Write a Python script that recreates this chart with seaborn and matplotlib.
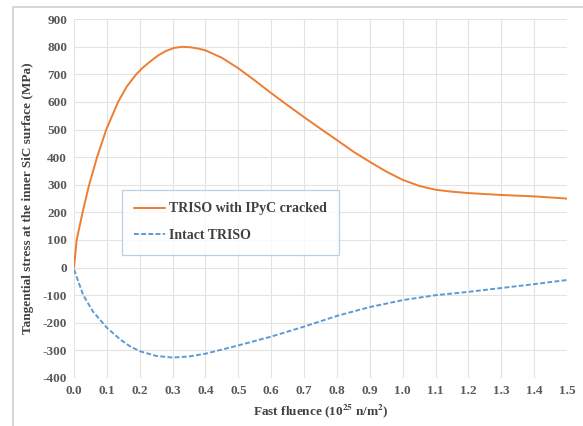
import numpy as np
import pandas as pd
import matplotlib
matplotlib.use("Agg")
import matplotlib.pyplot as plt
import seaborn as sns

# ==================== DATA ====================
fluence_cracked = [0.0, 0.008, 0.026, 0.046, 0.07, 0.098, 0.134, 0.16, 0.189, 0.21, 0.23, 0.255,
                   0.28, 0.305, 0.33, 0.355, 0.38, 0.4, 0.45, 0.5, 0.55, 0.6, 0.65, 0.7,
                   0.75, 0.8, 0.85, 0.9, 0.95, 1.0, 1.05, 1.1, 1.15, 1.2, 1.3, 1.4, 1.5]
stress_cracked = [0, 100, 200, 300, 400, 500, 600, 655, 700, 725, 745, 768,
                  785, 796, 800, 798, 793, 787, 760, 722, 678, 632, 588, 545,
                  503, 462, 420, 383, 348, 318, 296, 282, 275, 270, 263, 258, 250]

fluence_intact = [0.0, 0.01, 0.028, 0.058, 0.1, 0.14, 0.17, 0.2, 0.25, 0.3, 0.35, 0.4, 0.5,
                  0.6, 0.7, 0.8, 0.9, 1.0, 1.1, 1.2, 1.3, 1.4, 1.5]
stress_intact = [-7, -40, -100, -160, -218, -260, -285, -303, -320, -326, -322, -312, -282,
                 -250, -214, -175, -143, -118, -100, -88, -74, -60, -45]

x_ticks = [round(0.1 * i, 1) for i in range(16)]
y_ticks = list(range(-400, 1000, 100))

series_names = ["TRISO with IPyC cracked", "Intact TRISO"]

df = pd.concat([
    pd.DataFrame({"fluence": fluence_cracked, "stress": stress_cracked, "case": series_names[0]}),
    pd.DataFrame({"fluence": fluence_intact, "stress": stress_intact, "case": series_names[1]}),
])

# ==================== STYLE ====================
sns.set_style("white")
plt.rcParams['font.family'] = ['Liberation Serif', 'DejaVu Serif']
plt.rcParams['font.weight'] = 'bold'
plt.rcParams['mathtext.fontset'] = 'stix'
plt.rcParams['axes.unicode_minus'] = False

txt = '#595959'

fig = plt.figure(figsize=(5.83, 4.26), dpi=100)
ax = fig.add_axes([0.127, 0.1127, 0.8455, 0.8423])

sns.lineplot(data=df, x="fluence", y="stress", hue="case", style="case",
             palette={series_names[0]: '#ED7D31', series_names[1]: '#5B9BD5'},
             dashes={series_names[0]: "", series_names[1]: (2.5, 1.2)},
             linewidth=1.4, sort=False, ax=ax)
for ln in ax.lines:
    ln.set_solid_joinstyle('round')
    ln.set_dash_joinstyle('round')

ax.set_xlim(0, 1.5)
ax.set_ylim(-400, 900)
ax.set_xticks(x_ticks)
ax.set_xticklabels([f"{t:.1f}" for t in x_ticks])
ax.set_yticks(y_ticks)
ax.grid(True, color='#e3e3e3', linewidth=0.8)
for s in ax.spines.values():
    s.set_visible(False)
ax.tick_params(length=0, labelsize=9.5, colors=txt, pad=5)
for lab in ax.get_xticklabels() + ax.get_yticklabels():
    lab.set_fontweight('bold')

ax.set_xlabel(r"Fast fluence (10$^{\mathbf{25}}$ n/m$^{\mathbf{2}}$)", fontsize=9.5,
              fontweight='bold', color='#404040', labelpad=4)
ax.set_ylabel("Tangential stress at the inner SiC surface (MPa)", fontsize=9.5,
              fontweight='bold', color='#404040', labelpad=6)

leg = ax.legend(loc='upper left', bbox_to_anchor=(0.097, 0.524), frameon=True,
                fancybox=False, fontsize=10, borderpad=0.9, labelspacing=1.0,
                handlelength=2.2, handletextpad=0.3, borderaxespad=0)
leg.get_frame().set_edgecolor('#a9c4e0')
leg.get_frame().set_linewidth(0.9)
for t in leg.get_texts():
    t.set_color('#404040')
    t.set_fontweight('bold')

# outer chart border (cropped Excel chart area)
fig.add_artist(plt.Rectangle((13 / 583, -0.1), 1.2, 1 - 7 / 426 + 0.1, transform=fig.transFigure,
                             fill=False, edgecolor='#cfcfcf', linewidth=1.2))

fig.savefig("out.png", dpi=100)
